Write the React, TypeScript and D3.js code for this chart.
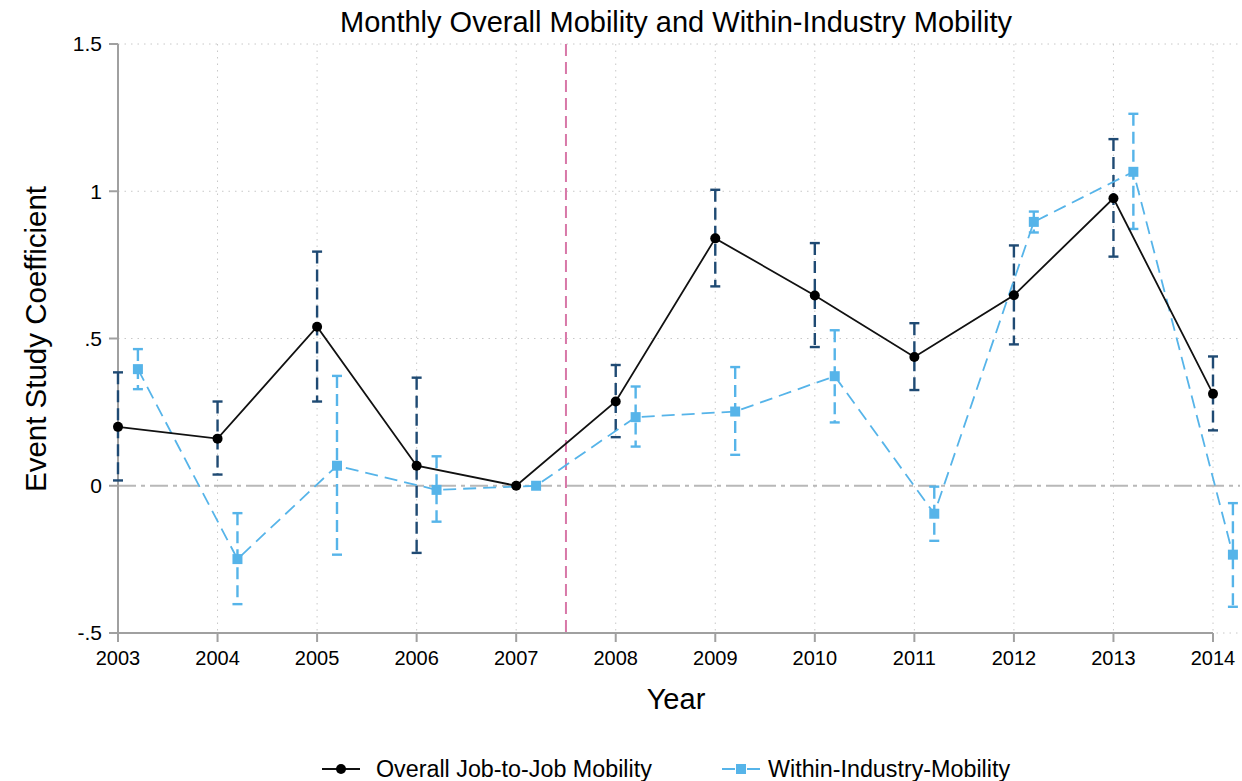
import React from "react";
import * as d3 from "d3";

const years = [2003, 2004, 2005, 2006, 2007, 2008, 2009, 2010, 2011, 2012, 2013, 2014];
const overall = [0.2, 0.16, 0.54, 0.068, 0, 0.286, 0.84, 0.646, 0.437, 0.647, 0.976, 0.312];
const overallLo = [0.018, 0.038, 0.286, -0.228, null, 0.165, 0.677, 0.471, 0.325, 0.48, 0.778, 0.188];
const overallHi = [0.385, 0.286, 0.795, 0.367, null, 0.41, 1.005, 0.824, 0.552, 0.816, 1.177, 0.439];
const within = [0.396, -0.249, 0.068, -0.014, 0, 0.233, 0.252, 0.372, -0.095, 0.896, 1.066, -0.234];
const withinLo = [0.328, -0.402, -0.234, -0.122, null, 0.133, 0.105, 0.215, -0.187, 0.86, 0.872, -0.411];
const withinHi = [0.464, -0.093, 0.373, 0.1, null, 0.337, 0.403, 0.528, -0.003, 0.931, 1.263, -0.059];
const yTicks = [-0.5, 0, 0.5, 1, 1.5];
const yTickLabels = ["-.5", "0", ".5", "1", "1.5"];
const withinOffset = 0.2;
const eventLine = 2007.5;

const W = 1242, H = 781;
const font = "'Liberation Sans', Arial, Helvetica, sans-serif";
const navy = "#1f4a73";
const light = "#56b4e9";

export default function App() {
  const x = d3.scaleLinear().domain([2003, 2014]).range([118, 1213]);
  const y = d3.scaleLinear().domain([-0.5, 1.5]).range([633, 44]);
  const gridRight = 1240;

  const lineGen = d3.line<[number, number]>().x(d => x(d[0])).y(d => y(d[1]));
  const overallPts: [number, number][] = years.map((yr, i) => [yr, overall[i]]);
  const withinPts: [number, number][] = years.map((yr, i) => [yr + withinOffset, within[i]]);
  const cap = 5;

  const errBars = (lo: (number | null)[], hi: (number | null)[], off: number, color: string, key: string) =>
    years.map((yr, i) => {
      if (lo[i] == null || hi[i] == null) return null;
      const cx = x(yr + off);
      const y1 = y(hi[i] as number), y2 = y(lo[i] as number);
      return (
        <g key={key + i} stroke={color} strokeWidth={2.4} fill="none">
          <line x1={cx} x2={cx} y1={y1} y2={y2} strokeDasharray="12,6" />
          <line x1={cx - cap} x2={cx + cap} y1={y1} y2={y1} />
          <line x1={cx - cap} x2={cx + cap} y1={y2} y2={y2} />
        </g>
      );
    });

  return (
    <svg width={W} height={H} style={{ position: "absolute", left: 0, top: 0, background: "#fff" }} fontFamily={font}>
      {yTicks.filter(t => t !== 0).map(t => (
        <line key={"hg" + t} x1={x(2003)} x2={gridRight} y1={y(t)} y2={y(t)} stroke="#c8c8c8" strokeWidth={1} strokeDasharray="1.5,5" />
      ))}
      {years.slice(1).map(yr => (
        <line key={"vg" + yr} x1={x(yr)} x2={x(yr)} y1={y(1.5)} y2={y(-0.5)} stroke="#c8c8c8" strokeWidth={1} strokeDasharray="1.5,5" />
      ))}
      <line x1={x(2003)} x2={gridRight} y1={y(0)} y2={y(0)} stroke="#b8b8b8" strokeWidth={2} strokeDasharray="18,5,4,5" />
      <line x1={x(eventLine)} x2={x(eventLine)} y1={y(1.5)} y2={y(-0.5)} stroke="#d878a8" strokeWidth={2} strokeDasharray="12,6" />
      <line x1={x(2003)} x2={x(2003)} y1={y(1.5)} y2={y(-0.5)} stroke="#a0a0a0" strokeWidth={2} />
      <line x1={x(2003)} x2={x(2014)} y1={y(-0.5)} y2={y(-0.5)} stroke="#a0a0a0" strokeWidth={2} />
      {yTicks.map((t, i) => (
        <g key={"yt" + t}>
          <line x1={x(2003) - 9} x2={x(2003)} y1={y(t)} y2={y(t)} stroke="#a0a0a0" strokeWidth={2} />
          <text x={x(2003) - 16} y={y(t)} dy="0.35em" textAnchor="end" fontSize={21}>{yTickLabels[i]}</text>
        </g>
      ))}
      {years.map(yr => (
        <g key={"xt" + yr}>
          <line x1={x(yr)} x2={x(yr)} y1={y(-0.5)} y2={y(-0.5) + 9} stroke="#a0a0a0" strokeWidth={2} />
          <text x={x(yr)} y={y(-0.5) + 32} textAnchor="middle" fontSize={20}>{yr}</text>
        </g>
      ))}
      {errBars(overallLo, overallHi, 0, navy, "o")}
      {errBars(withinLo, withinHi, withinOffset, light, "w")}
      <path d={lineGen(withinPts) || ""} fill="none" stroke={light} strokeWidth={1.8} strokeDasharray="13,7" />
      <path d={lineGen(overallPts) || ""} fill="none" stroke="#111" strokeWidth={1.8} />
      {withinPts.map((p, i) => (
        <rect key={"sq" + i} x={x(p[0]) - 5} y={y(p[1]) - 5} width={10} height={10} fill={light} />
      ))}
      {overallPts.map((p, i) => (
        <circle key={"c" + i} cx={x(p[0])} cy={y(p[1])} r={5} fill="#000" />
      ))}
      <text x={676} y={32} textAnchor="middle" fontSize={29}>Monthly Overall Mobility and Within-Industry Mobility</text>
      <text transform="translate(46,339) rotate(-90)" textAnchor="middle" fontSize={29.5}>Event Study Coefficient</text>
      <text x={676} y={709} textAnchor="middle" fontSize={29}>Year</text>
      <g>
        <line x1={322} x2={360} y1={769} y2={769} stroke="#111" strokeWidth={2} />
        <circle cx={341} cy={769} r={5} fill="#000" />
        <text x={376} y={769} dy="0.36em" fontSize={23.3}>Overall Job-to-Job Mobility</text>
        <line x1={722} x2={735} y1={769} y2={769} stroke={light} strokeWidth={2} />
        <line x1={747} x2={760} y1={769} y2={769} stroke={light} strokeWidth={2} />
        <rect x={736} y={764} width={10} height={10} fill={light} />
        <text x={768} y={769} dy="0.36em" fontSize={23.3}>Within-Industry-Mobility</text>
      </g>
    </svg>
  );
}
